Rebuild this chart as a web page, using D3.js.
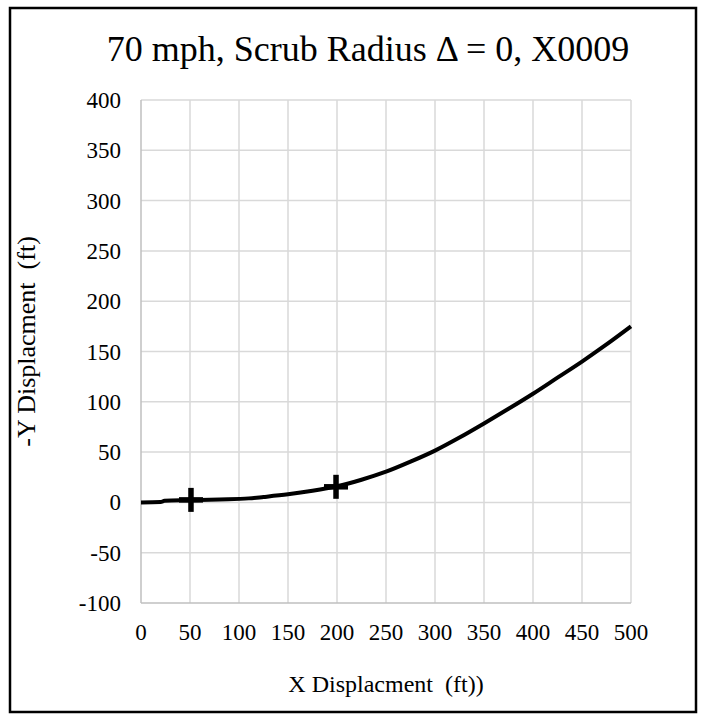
<!DOCTYPE html>
<html>
<head>
<meta charset="utf-8">
<script src="https://cdn.jsdelivr.net/npm/d3@7/dist/d3.min.js"></script>
<style>
  html, body { margin: 0; padding: 0; background: #fff; }
  svg { display: block; }
  text { font-family: "Liberation Serif", "Times New Roman", serif; fill: #000; }
</style>
</head>
<body>
<svg id="chart" width="702" height="719"></svg>
<script>
const titleText = "70 mph, Scrub Radius \u0394 = 0, X0009";
const xLabel = "X Displacment  (ft))";
const yLabel = "-Y Displacment  (ft)";
const xTicks = [0, 50, 100, 150, 200, 250, 300, 350, 400, 450, 500];
const yTicks = [-100, -50, 0, 50, 100, 150, 200, 250, 300, 350, 400];
const pathX = [0, 20, 24, 50, 80, 110, 125, 150, 175, 200, 225, 250, 275, 300, 325, 350, 375, 400, 425, 450, 475, 500];
const pathY = [0, 0.3, 1.6, 2.2, 3, 4, 5.4, 8, 11.5, 16, 22.5, 30.5, 40.5, 51.5, 64.5, 78.5, 93, 108, 124, 140, 157, 175];
const markerX = [51, 199];
const markerY = [2.5, 15.5];

const svg = d3.select("#chart");
const pLeft = 141, pRight = 631, pTop = 100, pBottom = 603;

const x = d3.scaleLinear().domain([0, 500]).range([pLeft, pRight]);
const y = d3.scaleLinear().domain([-100, 400]).range([pBottom, pTop]);

// outer frame
svg.append("rect").attr("x", 10).attr("y", 8).attr("width", 686).attr("height", 704)
  .attr("fill", "#fff").attr("stroke", "#000").attr("stroke-width", 2.5);

// gridlines
svg.append("g").selectAll("line").data(yTicks.filter(d => d !== -100)).join("line")
  .attr("x1", pLeft).attr("x2", pRight).attr("y1", d => y(d)).attr("y2", d => y(d))
  .attr("stroke", "#d9d9d9").attr("stroke-width", 1.5);
svg.append("g").selectAll("line").data(xTicks.filter(d => d !== 0)).join("line")
  .attr("y1", pTop).attr("y2", pBottom).attr("x1", d => x(d)).attr("x2", d => x(d))
  .attr("stroke", "#d9d9d9").attr("stroke-width", 1.5);

// axis lines
svg.append("line").attr("x1", pLeft).attr("x2", pLeft).attr("y1", pTop).attr("y2", pBottom)
  .attr("stroke", "#bfbfbf").attr("stroke-width", 1.5);
svg.append("line").attr("x1", pLeft).attr("x2", pRight).attr("y1", pBottom).attr("y2", pBottom)
  .attr("stroke", "#bfbfbf").attr("stroke-width", 1.5);

// tick labels
svg.append("g").selectAll("text").data(yTicks).join("text")
  .attr("x", pLeft - 20).attr("y", d => y(d)).attr("dy", "0.35em")
  .attr("text-anchor", "end").style("font-size", "23px").text(d => d);
svg.append("g").selectAll("text").data(xTicks).join("text")
  .attr("x", d => x(d)).attr("y", 632).attr("dy", "0.35em")
  .attr("text-anchor", "middle").style("font-size", "23px").text(d => d);

// title
svg.append("text").attr("x", 368).attr("y", 48).attr("dy", "0.35em")
  .attr("text-anchor", "middle").style("font-size", "36px").text(titleText);

// axis titles
svg.append("text").attr("x", (pLeft + pRight) / 2).attr("y", 684).attr("dy", "0.35em")
  .attr("text-anchor", "middle").style("font-size", "24px").style("white-space", "pre")
  .text(xLabel);
svg.append("text").attr("transform", `translate(26,${(pTop + pBottom) / 2 - 10}) rotate(-90)`)
  .attr("dy", "0.35em").attr("text-anchor", "middle").style("font-size", "26px")
  .style("white-space", "pre").text(yLabel);

// series line
const pts = pathX.map((d, i) => [d, pathY[i]]);
const line = d3.line().x(d => x(d[0])).y(d => y(d[1])).curve(d3.curveMonotoneX);
svg.append("path").datum(pts).attr("d", line)
  .attr("fill", "none").attr("stroke", "#000").attr("stroke-width", 4)
  .attr("stroke-linejoin", "round");

// plus markers
const mk = markerX.map((d, i) => [d, markerY[i]]);
const g = svg.append("g");
mk.forEach(([mx, my]) => {
  const cx = x(mx), cy = y(my);
  g.append("line").attr("x1", cx - 12).attr("x2", cx + 12).attr("y1", cy).attr("y2", cy)
    .attr("stroke", "#000").attr("stroke-width", 5.5);
  g.append("line").attr("x1", cx).attr("x2", cx).attr("y1", cy - 12).attr("y2", cy + 12)
    .attr("stroke", "#000").attr("stroke-width", 5.5);
});
</script>
</body>
</html>
